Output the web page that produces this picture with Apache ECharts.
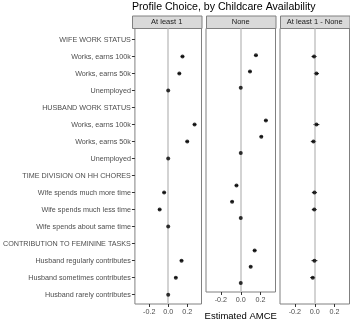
<!DOCTYPE html>
<html lang="en">
<head>
  <meta charset="utf-8">
  <script src="https://cdn.jsdelivr.net/npm/echarts@6/dist/echarts.min.js"></script>
</head>
<body style="margin:0">
  <div id="chart" style="width:350px;height:326px"></div>
  <script>
    // rows, top to bottom
    var categories = [
      'WIFE WORK STATUS', 'Works, earns 100k', 'Works, earns 50k', 'Unemployed',
      'HUSBAND WORK STATUS', 'Works, earns 100k', 'Works, earns 50k', 'Unemployed',
      'TIME DIVISION ON HH CHORES', 'Wife spends much more time', 'Wife spends much less time', 'Wife spends about same time',
      'CONTRIBUTION TO FEMININE TASKS', 'Husband regularly contributes', 'Husband sometimes contributes', 'Husband rarely contributes'
    ];
    var panels = ['At least 1', 'None', 'At least 1 - None'];

    // estimates (null = header row / not shown)
    var atLeast1Est = [null, 0.150, 0.117, 0, null, 0.277, 0.200, 0, null, -0.043, -0.090, 0, null, 0.140, 0.080, 0];
    var noneEst     = [null, 0.153, 0.093, 0, null, 0.253, 0.207, 0, null, -0.043, -0.087, 0, null, 0.140, 0.100, 0];
    var diffEst     = [null, -0.007, 0.017, null, null, 0.017, -0.013, null, null, -0.003, -0.005, null, null, -0.003, -0.020, null];

    // half width of the 95% intervals
    var atLeast1Ci = [0, 0.018, 0.016, 0, 0, 0.018, 0.017, 0, 0, 0.016, 0.016, 0, 0, 0.018, 0.016, 0];
    var noneCi     = [0, 0.018, 0.016, 0, 0, 0.018, 0.017, 0, 0, 0.016, 0.016, 0, 0, 0.018, 0.016, 0];
    var diffCi     = [0, 0.026, 0.026, 0, 0, 0.030, 0.027, 0, 0, 0.026, 0.025, 0, 0, 0.030, 0.027, 0];

    var xTicks = [-0.2, 0, 0.2];

    var ests = [atLeast1Est, noneEst, diffEst];
    var cis = [atLeast1Ci, noneCi, diffCi];
    var rowIdx = categories.map(function (c, i) { return i; });

    var W = 69.5, GAP = 4.5, LEFT = 132, TOP = 28.5, H = 275.5;

    var chart = echarts.init(document.getElementById('chart'));

    var grids = [], xAxes = [], yAxes = [], series = [], graphics = [];
    for (var p = 0; p < 3; p++) {
      var left = LEFT + p * (W + GAP);
      grids.push({left: left, top: TOP, width: W, height: H, show: true,
        backgroundColor: '#fff', borderColor: '#808080', borderWidth: 1});
      xAxes.push({
        type: 'value', gridIndex: p, min: -0.35, max: 0.35,
        axisLine: {show: false, onZero: false}, splitLine: {show: false},
        axisTick: {show: true, customValues: xTicks, length: 3, lineStyle: {color: '#333'}},
        axisLabel: {customValues: xTicks, fontSize: 7.2, color: '#4d4d4d', margin: 5,
          fontFamily: 'Liberation Sans',
          formatter: function (v) { return v.toFixed(1); }},
        name: p == 1 ? 'Estimated AMCE' : '', nameLocation: 'middle', nameGap: 19,
        nameTextStyle: {fontSize: 9.5, color: '#000', fontFamily: 'Liberation Sans'}
      });
      yAxes.push({
        type: 'value', gridIndex: p, inverse: true, min: -0.65, max: 15.55,
        axisLine: {show: false, onZero: false}, splitLine: {show: false},
        axisTick: {show: p == 0, customValues: rowIdx, length: 3, lineStyle: {color: '#333'}},
        axisLabel: {show: p == 0, customValues: rowIdx, fontSize: 7.2, color: '#4d4d4d', margin: 4,
          fontFamily: 'Liberation Sans',
          formatter: function (v) { return categories[v]; }}
      });

      var pts = [], bars = [];
      for (var i = 0; i < categories.length; i++) {
        var e = ests[p][i];
        if (e === null) continue;
        pts.push([e, i]);
        if (cis[p][i] > 0) bars.push([e, i, e - cis[p][i], e + cis[p][i]]);
      }
      series.push({
        type: 'scatter', xAxisIndex: p, yAxisIndex: p, data: pts, symbolSize: 4,
        itemStyle: {color: '#000'}, z: 5,
        markLine: {silent: true, symbol: ['none', 'none'], label: {show: false},
          lineStyle: {color: '#c4c4c4', width: 1.5, type: 'solid'},
          data: [{xAxis: 0}]}
      });
      series.push({
        type: 'custom', xAxisIndex: p, yAxisIndex: p, data: bars, z: 4,
        encode: {x: [0, 2, 3], y: 1},
        renderItem: function (params, api) {
          var y = api.value(1);
          var a = api.coord([api.value(2), y]);
          var b = api.coord([api.value(3), y]);
          return {type: 'line', shape: {x1: a[0], y1: a[1], x2: b[0], y2: b[1]},
            style: {stroke: '#000', lineWidth: 0.8}};
        }
      });

      graphics.push({type: 'rect', left: left, top: 15.5,
        shape: {width: W, height: 12.5},
        style: {fill: '#d9d9d9', stroke: '#808080', lineWidth: 1}});
      graphics.push({type: 'text', x: left + W / 2, y: 22,
        style: {text: panels[p], fontSize: 7.5, fill: '#1a1a1a', align: 'center',
          verticalAlign: 'middle', fontFamily: 'Liberation Sans'}});
    }

    chart.setOption({
      animation: false,
      title: {text: 'Profile Choice, by Childcare Availability', left: LEFT, top: 1.5, padding: 0,
        textStyle: {fontSize: 10.6, fontWeight: 'normal', color: '#000', fontFamily: 'Liberation Sans'}},
      grid: grids,
      xAxis: xAxes,
      yAxis: yAxes,
      series: series,
      graphic: graphics
    });
  </script>
</body>
</html>
